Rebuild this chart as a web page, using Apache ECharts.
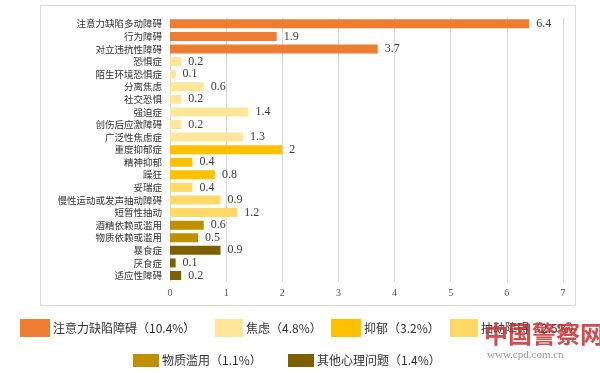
<!DOCTYPE html>
<html><head><meta charset="utf-8">
<script src="https://cdn.jsdelivr.net/npm/echarts@6/dist/echarts.min.js"></script>
<style>html,body{margin:0;padding:0;background:#fff}#c{width:600px;height:373px}</style>
</head><body><div id="c"></div>
<script>
const categories = ['注意力缺陷多动障碍','行为障碍','对立违抗性障碍','恐惧症','陌生环境恐惧症','分离焦虑','社交恐惧','强迫症','创伤后应激障碍','广泛性焦虑症','重度抑郁症','精神抑郁','躁狂','妥瑞症','慢性运动或发声抽动障碍','短暂性抽动','酒精依赖或滥用','物质依赖或滥用','暴食症','厌食症','适应性障碍'];
const values = [6.4,1.9,3.7,0.2,0.1,0.6,0.2,1.4,0.2,1.3,2,0.4,0.8,0.4,0.9,1.2,0.6,0.5,0.9,0.1,0.2];
const groupNames = ['注意力缺陷障碍（10.4%）','焦虑（4.8%）','抑郁（3.2%）','抽动障碍（2.5%）','物质滥用（1.1%）','其他心理问题（1.4%）'];
const groupOf = [0,0,0,1,1,1,1,1,1,1,2,2,2,3,3,3,4,4,5,5,5];
const groupColors = ['#ED7D31','#FFE699','#FFC000','#FFD966','#BF9000','#7F6000'];
const xTicks = [0,1,2,3,4,5,6,7];

const series = groupNames.map((name, g) => ({
  name: name,
  type: 'bar',
  stack: 'all',
  barWidth: 9,
  itemStyle: { color: groupColors[g] },
  label: { show: true, position: 'right', distance: 7, color: '#404040', fontFamily: 'Liberation Serif', fontSize: 12,
    formatter: p => String(p.value) },
  data: values.map((v, i) => groupOf[i] === g ? v : '-')
}));

const legendPos = [
  {left: 15, top: 314, w: 30, h: 18},
  {left: 210, top: 314, w: 28, h: 18},
  {left: 326, top: 314, w: 30, h: 18},
  {left: 445, top: 314, w: 28, h: 18},
  {left: 128, top: 349, w: 26, h: 13},
  {left: 283, top: 349, w: 26, h: 13}
];
const legends = groupNames.map((n, i) => ({
  data: [n], left: legendPos[i].left, top: legendPos[i].top, orient: 'horizontal',
  itemWidth: legendPos[i].w, itemHeight: legendPos[i].h, icon: 'rect', itemGap: 4,
  selectedMode: false,
  textStyle: { fontFamily: 'Noto Sans CJK SC', fontSize: 12, color: '#333', padding: [0,0,0,-2] }
}));

const chart = echarts.init(document.getElementById('c'), null, {renderer: 'canvas'});
chart.setOption({
  animation: false,
  backgroundColor: '#fff',
  grid: { left: 170, right: 37, top: 17.5, bottom: 91.2, containLabel: false },
  xAxis: {
    type: 'value', min: 0, max: 7, interval: 1,
    axisLine: { show: false }, axisTick: { show: false },
    splitLine: { show: true, lineStyle: { color: '#d9d9d9', width: 1 } },
    axisLabel: { color: '#595959', fontFamily: 'Liberation Serif', fontSize: 10, margin: 7,
      formatter: v => xTicks.includes(v) ? String(v) : '' }
  },
  yAxis: {
    type: 'category', inverse: true, data: categories,
    axisLine: { show: false }, axisTick: { show: false },
    axisLabel: { color: '#333', fontFamily: 'Noto Sans CJK SC', fontSize: 9.5, margin: 8, interval: 0 }
  },
  legend: legends,
  series: series,
  graphic: [
    { type: 'rect', silent: true, z: -1, shape: { x: 40.5, y: 5.5, width: 535, height: 300 },
      style: { fill: 'none', stroke: '#d9d9d9', lineWidth: 1 } },
    { type: 'text', left: 484, top: 322, z: 10, silent: true,
      style: { text: '中国警察网', fill: '#cc2b2f', font: 'bold 24px "Noto Sans CJK SC"', opacity: 0.85 } },
    { type: 'text', left: 487, top: 350, z: 10, silent: true,
      style: { text: 'www.cpd.com.cn', fill: '#999', font: '11px "Liberation Serif"' } }
  ]
});
</script></body></html>
